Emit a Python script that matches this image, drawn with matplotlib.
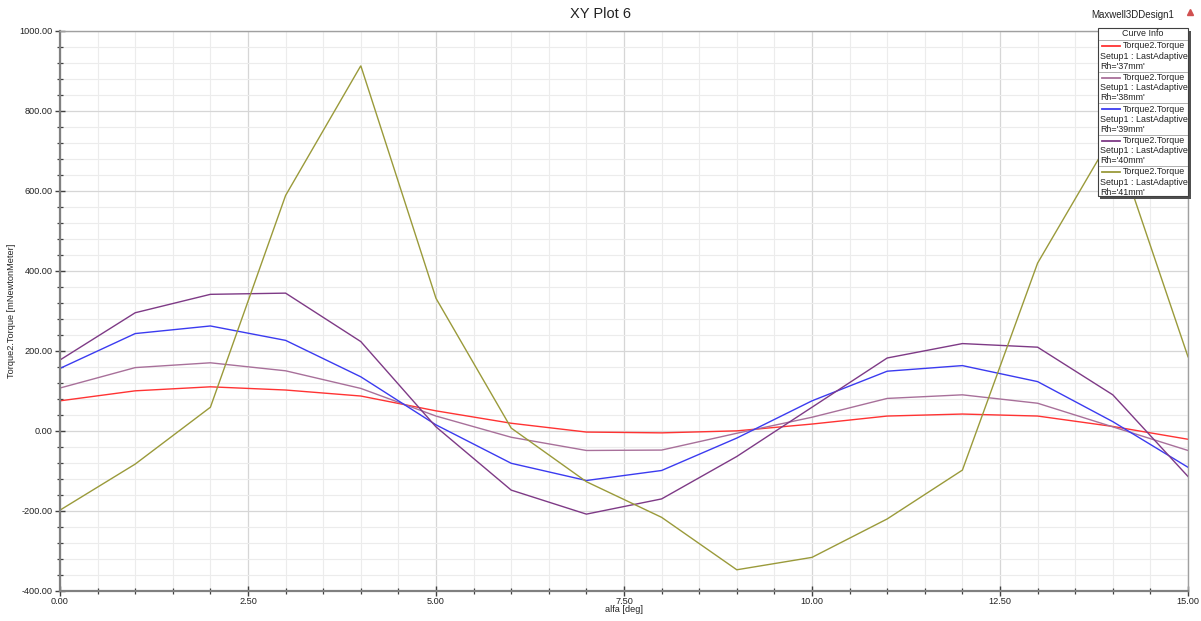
import matplotlib
matplotlib.use("Agg")
import matplotlib.pyplot as plt
from matplotlib.ticker import MultipleLocator, FormatStrFormatter
from matplotlib.lines import Line2D
from matplotlib.patches import Rectangle

plt.rcParams['font.family'] = ['Liberation Sans', 'DejaVu Sans']

# ---- data ----
alfa = [0, 1, 2, 3, 4, 5, 6, 7, 8, 9, 10, 11, 12, 13, 14, 15]
rh37 = [75, 100, 110, 102, 87, 50, 19, -3, -5, 0, 17, 37, 42, 37, 11, -21]
rh38 = [107, 158, 170, 150, 106, 37, -16, -49, -48, -6, 34, 81, 90, 69, 10, -49]
rh39 = [156, 243, 262, 226, 135, 15, -81, -124, -99, -18, 75, 149, 163, 123, 23, -91]
rh40 = [177, 295, 341, 344, 223, 10, -148, -208, -170, -64, 59, 182, 218, 209, 90, -114]
rh41 = [-198, -83, 59, 588, 912, 331, 7, -127, -216, -347, -316, -220, -98, 419, 740, 185]

labels = ["Rh='37mm'", "Rh='38mm'", "Rh='39mm'", "Rh='40mm'", "Rh='41mm'"]
series = [rh37, rh38, rh39, rh40, rh41]
colors = ['#ff3333', '#a8709a', '#3b3bf0', '#7e3a86', '#9a9a3a']

W, H = 1201, 621
fig = plt.figure(figsize=(W / 100, H / 100), dpi=100)
fig.patch.set_facecolor('white')

L, R, T, B = 60, 1188, 30.5, 591
ax = fig.add_axes([L / W, 1 - B / H, (R - L) / W, (B - T) / H])

for ys, c in zip(series, colors):
    ax.plot(alfa, ys, color=c, lw=1.0, solid_joinstyle='miter')

ax.set_xlim(0, 15)
ax.set_ylim(-400, 1000)
ax.xaxis.set_major_locator(MultipleLocator(2.5))
ax.xaxis.set_minor_locator(MultipleLocator(0.5))
ax.yaxis.set_major_locator(MultipleLocator(200))
ax.yaxis.set_minor_locator(MultipleLocator(40))
ax.xaxis.set_major_formatter(FormatStrFormatter('%.2f'))
ax.yaxis.set_major_formatter(FormatStrFormatter('%.2f'))
ax.grid(which='major', color='#d6d6d6', lw=0.9)
ax.grid(which='minor', color='#ececec', lw=0.8)
ax.set_axisbelow(True)
ax.tick_params(which='major', direction='inout', length=7, width=1.0, color='#404040',
               labelsize=6.6, pad=2, labelcolor='#222222')
ax.tick_params(axis='x', which='major', pad=0.5)
ax.tick_params(which='minor', direction='inout', length=4, width=0.9, color='#404040')
for s in ax.spines.values():
    s.set_color('#a0a0a0')
    s.set_linewidth(1.0)
ax.spines['left'].set_color('#808080')
ax.spines['bottom'].set_color('#808080')
ax.spines['left'].set_linewidth(1.6)
ax.spines['bottom'].set_linewidth(1.6)

ax.set_xlabel('alfa [deg]', fontsize=6.6, color='#222222', va='center')
ax.xaxis.set_label_coords(0.5, -(609 - B) / (B - T))
ax.set_ylabel('Torque2.Torque [mNewtonMeter]', fontsize=6.6, labelpad=2, color='#222222')

def fx(px):
    return px / W

def fy(py):
    return 1 - py / H

fig.text(fx(600), fy(14), 'XY Plot 6', fontsize=10.5, ha='center', va='center', color='#222222')
fig.text(fx(1133), fy(15), 'Maxwell3DDesign1', fontsize=7, ha='center', va='center', color='#222222')
fig.add_artist(Line2D([fx(1190)], [fy(12)], marker='^', markersize=4.5, color='#d05050', ls='none'))

# ---- custom legend (Curve Info box) ----
bx0, bx1, by0, by1 = 1097.5, 1188, 28, 196
fig.add_artist(Rectangle((fx(bx0 + 2.5), fy(by1 + 2.5)), (bx1 - bx0) / W, (by1 - by0) / H,
                         facecolor='#505050', edgecolor='none', zorder=9))
fig.add_artist(Rectangle((fx(bx0), fy(by1)), (bx1 - bx0) / W, (by1 - by0) / H,
                         facecolor='white', edgecolor='#404040', lw=0.8, zorder=10))
fig.text(fx((bx0 + bx1) / 2), fy(34), 'Curve Info', fontsize=6.4, ha='center', va='center',
         color='#222222', zorder=11)
seps = [39.5, 71.5, 103, 134.5, 166]
for s in seps:
    fig.add_artist(Line2D([fx(bx0 + 1), fx(bx1 - 1)], [fy(s), fy(s)], color='#b0b0b0', lw=0.7, zorder=11))
top0 = 46
step = 31.5
for i, (lab, c) in enumerate(zip(labels, colors)):
    y1 = top0 + i * step
    fig.add_artist(Line2D([fx(1101.5), fx(1120)], [fy(y1), fy(y1)], color=c, lw=1.3, zorder=11))
    fig.text(fx(1122.5), fy(y1), 'Torque2.Torque', fontsize=6.4, ha='left', va='center',
             color='#222222', zorder=11)
    fig.text(fx(1100.5), fy(y1 + 10.3), 'Setup1 : LastAdaptive', fontsize=6.4, ha='left', va='center',
             color='#222222', zorder=11)
    fig.text(fx(1100.5), fy(y1 + 20.3), lab, fontsize=6.4, ha='left', va='center',
             color='#222222', zorder=11)

fig.savefig('out.png', dpi=100)
